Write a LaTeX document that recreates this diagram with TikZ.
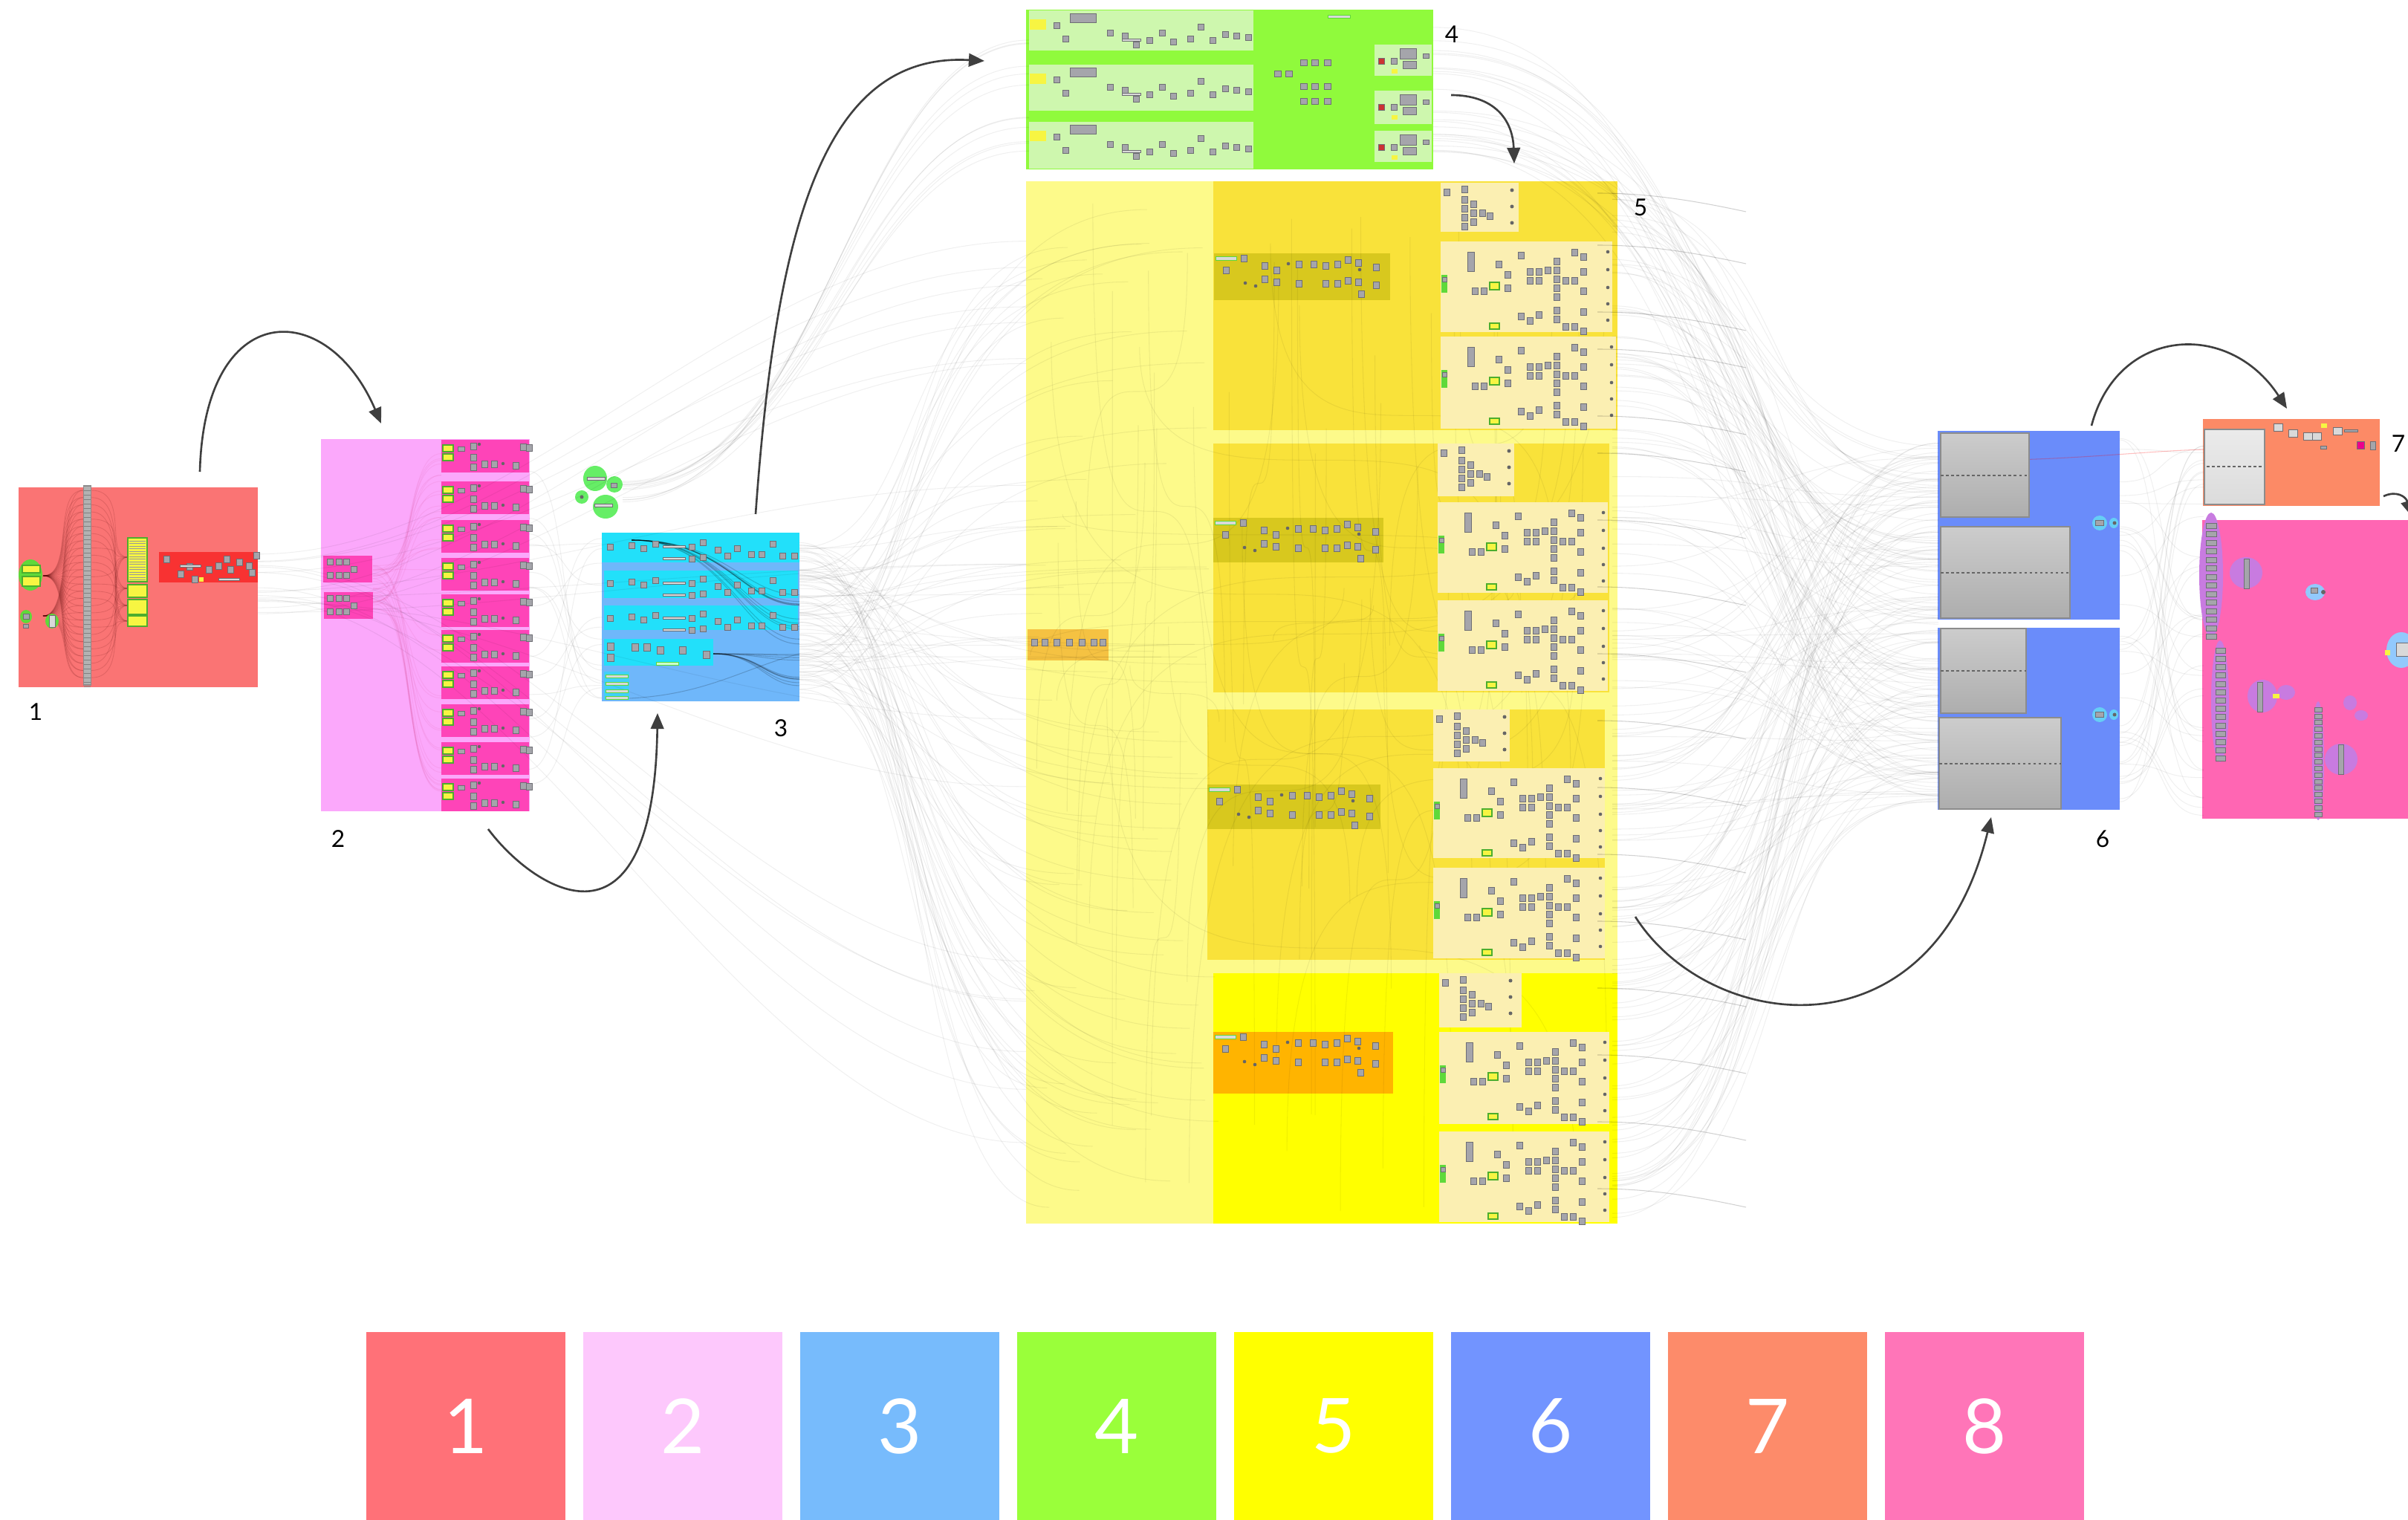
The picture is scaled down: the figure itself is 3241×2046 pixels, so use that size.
\documentclass[tikz,border=0pt]{standalone}
\usepackage{fontspec}
\setmainfont{Lato}
\usetikzlibrary{arrows.meta}
\definecolor{lg1}{HTML}{FF7178}
\definecolor{lg2}{HTML}{FDC8FC}
\definecolor{lg3}{HTML}{77BBFC}
\definecolor{lg4}{HTML}{9AFF3A}
\definecolor{lg5}{HTML}{FFFF00}
\definecolor{lg6}{HTML}{7294FF}
\definecolor{lg7}{HTML}{FD8B6A}
\definecolor{lg8}{HTML}{FF75B8}
\definecolor{gA}{HTML}{FA7474}
\definecolor{gAred}{HTML}{F83232}
\definecolor{gBl}{HTML}{FBA8FB}
\definecolor{gBd}{HTML}{FE44B8}
\definecolor{gCo}{HTML}{6FB7FA}
\definecolor{gCi}{HTML}{22E0FA}
\definecolor{gDo}{HTML}{90FA3C}
\definecolor{gDi}{HTML}{CEF7AE}
\definecolor{gEo}{HTML}{FDFA8A}
\definecolor{gEg}{HTML}{F9E23A}
\definecolor{gEol}{HTML}{D8C81E}
\definecolor{gEc}{HTML}{FBEFB2}
\definecolor{gEor}{HTML}{FFB400}
\definecolor{gEsm}{HTML}{F5C242}
\definecolor{gF}{HTML}{6A8CFA}
\definecolor{gG}{HTML}{FC8A66}
\definecolor{gH}{HTML}{FF66B3}
\definecolor{purp}{HTML}{C87BE0}
\definecolor{ghgreen}{HTML}{5FD93A}
\definecolor{blob}{HTML}{66EE66}
\definecolor{cmpgray}{HTML}{A5A5AB}
\definecolor{cmpedge}{HTML}{6E6E74}
\definecolor{ylw}{HTML}{F7F542}
\definecolor{arr}{HTML}{3F3F3F}
\tikzset{
  cmp/.style={fill=cmpgray,draw=cmpedge,line width=0.15pt},
  ybox/.style={fill=ylw,draw=ghgreen!80!black,line width=0.3pt},
  wire/.style={draw=black,opacity=0.06,line width=0.3pt},
  darkwire/.style={draw=black,opacity=0.18,line width=0.3pt},
  fanwire/.style={draw=black!70!red,opacity=0.14,line width=0.25pt},
  flow/.style={draw=arr,line width=0.75pt,-{Triangle[length=6pt,width=5pt]}},
  grplabel/.style={font=\fontsize{9}{10}\selectfont,text=black,inner sep=0pt},
  legbox/.style={minimum width=2.68cm,minimum height=2.53cm,inner sep=0pt,text=white,font=\fontsize{29}{30}\selectfont},
  panel/.style={top color=black!20,bottom color=black!32,draw=black!45,line width=0.4pt}
}
\begin{document}
\begin{tikzpicture}[x=0.01cm,y=-0.01cm]
\useasboundingbox (0,0) rectangle (3241,2046);
\fill[white] (0,0) rectangle (3241,2046);
\pgfmathsetseed{17}

%================ group backgrounds ================
% group 1
\fill[gA] (25,656) rectangle (347,925);
\fill[gAred] (214,743) rectangle (347,784);
% group 2
\fill[gBl] (432,591) rectangle (713,1092);
\foreach \r in {592,648,700,751,800,848,897,948,999,1048}
  \fill[gBd] (594,\r) rectangle (712,\r+44);
\fill[gBd] (435,748) rectangle (501,784);
\fill[gBd] (436,797) rectangle (502,833);
% green blobs
\fill[blob] (801,644) ellipse (16 and 17);
\fill[blob] (827,652) ellipse (11 and 11);
\fill[blob] (783,669) ellipse (9 and 9);
\fill[blob] (815,682) ellipse (17 and 16);
% group 3
\fill[gCo] (810,717) rectangle (1076,944);
\fill[gCi] (810,717) rectangle (1076,757);
\fill[gCi] (813,768) rectangle (1074,805);
\fill[gCi] (813,815) rectangle (1074,848);
\fill[gCi] (813,860) rectangle (960,896);
\fill[gCi!60!gCo] (813,904) rectangle (847,942);
% group 4
\fill[gDo] (1381,13) rectangle (1929,228);
\fill[gDi] (1385,14) rectangle (1687,68);
\fill[gDi] (1385,87) rectangle (1687,149);
\fill[gDi] (1385,164) rectangle (1687,227);
\fill[gDi] (1850,60) rectangle (1927,102);
\fill[gDi] (1850,122) rectangle (1927,167);
\fill[gDi] (1850,176) rectangle (1927,218);
% group 5
\fill[gEo] (1381,244) rectangle (2177,1647);
\fill[gEg] (1633,244) rectangle (2177,579);
\fill[gEg] (1633,597) rectangle (2166,932);
\fill[gEg] (1625,955) rectangle (2160,1292);
\fill[lg5] (1633,1310) rectangle (2177,1647);
\fill[gEol] (1634,341) rectangle (1871,404);
\fill[gEol] (1633,697) rectangle (1862,757);
\fill[gEol] (1625,1056) rectangle (1858,1116);
\fill[gEor] (1633,1389) rectangle (1875,1472);
\fill[gEsm] (1383,847) rectangle (1492,889);
% group 6
\fill[gF] (2608,580) rectangle (2853,834);
\fill[gF] (2608,845) rectangle (2853,1090);
% group 7
\fill[gG] (2965,564) rectangle (3203,681);
% group 8
\fill[gH] (2964,700) rectangle (3241,1102);

%================ faint wires ================
\foreach \i in {1,...,18}{
  \pgfmathsetmacro\ya{745+95*rnd}
  \pgfmathsetmacro\yb{300+1300*rnd}
  \draw[wire] (347,\ya) .. controls (700,\ya) and (1000,\yb) .. (1381,\yb);
}
\foreach \i in {1,...,34}{
  \pgfmathsetmacro\ya{760+60*rnd}
  \pgfmathsetmacro\yb{600+480*rnd}
  \draw[wire,draw=purple] (502,\ya) .. controls (560,\ya) and (540,\yb) .. (594,\yb);
}
\foreach \i in {1,...,16}{
  \pgfmathsetmacro\ya{600+480*rnd}
  \pgfmathsetmacro\yb{720+220*rnd}
  \draw[wire] (712,\ya) .. controls (770,\ya) and (750,\yb) .. (810,\yb);
}
\foreach \i in {1,...,12}{
  \pgfmathsetmacro\ya{640+45*rnd}
  \pgfmathsetmacro\yb{25+190*rnd}
  \draw[wire] (838,\ya) .. controls (1100,\ya) and (1150,\yb) .. (1385,\yb);
}
\foreach \i in {1,...,90}{
  \pgfmathsetmacro\ya{725+210*rnd}
  \pgfmathsetmacro\yb{250+1390*rnd}
  \pgfmathsetmacro\xb{1390+250*rnd}
  \draw[wire] (1076,\ya) .. controls (1250,\ya) and (1200,\yb) .. (\xb,\yb);
}
\foreach \i in {1,...,12}{
  \pgfmathsetmacro\yb{760+120*rnd}
  \draw[darkwire] (850,727) .. controls (980,727) and (1000,\yb) .. (1076,\yb);
}
\foreach \i in {1,...,10}{
  \pgfmathsetmacro\yb{880+50*rnd}
  \draw[darkwire] (960,880) .. controls (1020,880) and (1030,\yb) .. (1076,\yb);
}
\draw[darkwire] (847,940) .. controls (950,935) and (1000,900) .. (1076,880);
\foreach \i in {1,...,60}{
  \pgfmathsetmacro\xa{1385+780*rnd}
  \pgfmathsetmacro\xb{1385+780*rnd}
  \pgfmathsetmacro\ya{250+700*rnd}
  \pgfmathsetmacro\yb{700+940*rnd}
  \draw[wire] (\xa,\ya) .. controls (\xa,\yb) and (\xb,\ya) .. (\xb,\yb);
}
\foreach \i in {1,...,24}{
  \pgfmathsetmacro\ya{30+180*rnd}
  \pgfmathsetmacro\yb{590+480*rnd}
  \draw[wire] (1929,\ya) .. controls (2350,\ya) and (2300,\yb) .. (2609,\yb);
}
\foreach \i in {1,...,150}{
  \pgfmathsetmacro\ya{260+1380*rnd}
  \pgfmathsetmacro\yb{590+490*rnd}
  \draw[wire] (2170,\ya) .. controls (2420,\ya) and (2360,\yb) .. (2609,\yb);
}
\foreach \i in {1,...,40}{
  \pgfmathsetmacro\ya{590+490*rnd}
  \pgfmathsetmacro\yb{580+520*rnd}
  \draw[wire] (2853,\ya) .. controls (2920,\ya) and (2900,\yb) .. (2966,\yb);
}
\draw[draw=red,opacity=0.25,line width=0.3pt] (2640,620) .. controls (2800,620) and (2900,605) .. (2980,605);

%================ group 1 details ================
\foreach \k in {0,...,26}{
  \draw[fanwire] (58,775) .. controls (100,775) and (70,660+\k*9.7) .. (112,660+\k*9.7);
  \draw[fanwire] (58,829) .. controls (100,829) and (75,660+\k*9.7) .. (112,660+\k*9.7);
}
\foreach \k in {0,...,26}{
  \pgfmathsetmacro\yc{{750,792,815,836}[mod(\k,4)]}
  \draw[fanwire] (123,660+\k*9.7) .. controls (175,660+\k*9.7) and (140,\yc) .. (172,\yc);
}
\fill[black!45] (112,653) rectangle (123,923);
\fill[black!30] (113,655) rectangle (122,921);
\foreach \k in {0,...,44} \draw[black!50,line width=0.1pt] (113,660+\k*6) -- (122,660+\k*6);
\path[ybox] (172,724) rectangle (198,783);
\path[ybox] (172,787) rectangle (198,804);
\path[ybox] (172,807) rectangle (198,827);
\path[ybox] (172,829) rectangle (198,843);
\foreach \k in {0,...,15} \draw[black!40,line width=0.1pt] (174,728+\k*3.5) -- (196,728+\k*3.5);
\fill[ghgreen] (41,774) ellipse (16 and 21);
\path[ybox] (30,761) rectangle (54,771);
\path[ybox] (30,776) rectangle (54,789);
\fill[ghgreen] (35,830) ellipse (8 and 9);
\path[cmp] (31,826) rectangle ++(8,7);
\path[cmp] (31,840) rectangle ++(7,5);
\fill[ghgreen] (70,836) ellipse (9 and 10);
\path[cmp,fill=white!85!black] (66,828) rectangle ++(8,16);
\foreach \cx/\cy in {220/748,239/768,251/758,258/775,277/762,290/757,301/748,306/762,318/752,331/757,335/766,341/743}
  \path[cmp] (\cx,\cy) rectangle ++(8,9);
\path[cmp,fill=white!85!black] (242,760) rectangle ++(28,3);
\path[cmp,fill=white!85!black] (294,778) rectangle ++(28,3);
\fill[ylw] (268,777) rectangle ++(6,6);

%================ group 2 details ================
\foreach \r in {592,648,700,751,800,848,897,948,999,1048}{
  \path[ybox] (596,\r+7) rectangle ++(14,9);
  \path[ybox] (596,\r+19) rectangle ++(14,9);
  \path[cmp] (616,\r+9) rectangle ++(9,6);
  \foreach \cx/\cy in {633/4,633/19,633/32,648/28,661/28,700/5,690/30,708/6}
    \path[cmp] (\cx,\r+\cy) rectangle ++(8,9);
  \fill[black!60] (645,\r+6) circle (2.2);
  \fill[black!60] (677,\r+32) circle (2.2);
}
\foreach \yy in {748,797}{
  \foreach \cx/\cy in {440/4,452/4,462/4,472/14,440/22,452/22,462/22}
    \path[cmp] (\cx,\yy+\cy) rectangle ++(8,8);
}
\path[cmp,fill=white!85!black] (790,642) rectangle ++(24,4);
\path[cmp,fill=white!85!black] (800,678) rectangle ++(24,4);
\path[cmp] (822,650) rectangle ++(8,6);
\fill[black!60] (783,669) circle (2.5);

%================ group 3 details ================
\foreach \yy in {722,771,818}{
  \foreach \cx/\cy in {817/10,846/8,862/12,878/6,927/10,942/4,962/14,975/22,988/12,1007/20,1021/20,1036/6,1049/22,1065/22,927/26,942/24}{
    \path[cmp] (\cx,\yy+\cy) rectangle ++(8,8);
  }
  \path[cmp,fill=white!85!black] (892,\yy+12) rectangle ++(30,3);
  \path[cmp,fill=white!85!black] (892,\yy+28) rectangle ++(30,3);
}
\foreach \cx/\cy in {817/865,850/866,866/866,884/870,914/870,946/876,817/880}
  \path[cmp] (\cx,\cy) rectangle ++(9,10);
\path[cmp,fill=white!80!green,draw=ghgreen] (883,891) rectangle ++(30,4);
\foreach \yy in {908,918,928,937}
  \path[cmp,fill=white!85!black,draw=ghgreen] (815,\yy) rectangle ++(30,4);

%================ group 4 details ================
\foreach \yy in {14,87,164}{
  \fill[ylw] (1386,\yy+12) rectangle ++(22,14);
  \path[cmp] (1440,\yy+4) rectangle ++(35,12);
  \foreach \cx/\cy in {1418/16,1430/34,1490/26,1510/30,1525/42,1543/36,1560/26,1575/38,1598/34,1612/18,1628/36,1645/28,1660/30,1676/32}{
    \path[cmp] (\cx,\yy+\cy) rectangle ++(8,8);
  }
  \path[cmp,fill=white!85!black] (1510,\yy+38) rectangle ++(25,3);
}
\foreach \cx/\cy in {1715/95,1730/95,1750/80,1765/80,1782/80,1750/112,1765/112,1782/112,1750/132,1765/132,1782/132}
  \path[cmp] (\cx,\cy) rectangle ++(9,8);
\path[cmp,fill=white!85!black,draw=ghgreen] (1787,20) rectangle ++(30,4);
\foreach \yy in {60,122,176}{
  \path[cmp] (1884,\yy+5) rectangle ++(22,14);
  \path[cmp] (1888,\yy+22) rectangle ++(18,10);
  \path[cmp,fill=red!60!gray] (1855,\yy+18) rectangle ++(8,8);
  \path[cmp] (1872,\yy+18) rectangle ++(8,8);
  \path[cmp] (1915,\yy+12) rectangle ++(8,6);
  \fill[ylw] (1873,\yy+33) rectangle ++(8,6);
}

%================ group 5 details ================
% small top boxes
\foreach \xa/\ya/\xb/\yb in {1939/246/2044/312,1935/597/2038/668,1929/955/2032/1025,1937/1310/2048/1383}{
  \fill[gEc] (\xa,\ya) rectangle (\xb,\yb);
  \foreach \dx/\dy in {4/8,28/4,28/18,28/30,28/42,28/54,40/24,40/36,52/36,62/40,40/48}
    \path[cmp] (\xa+\dx,\ya+\dy) rectangle ++(8,9);
  \foreach \dy in {10,32,54} \fill[black!60] (\xa+96,\ya+\dy) circle (2.5);
}
% middle and bottom boxes
\foreach \xa/\ya/\xb/\yb in {1939/325/2170/447,1939/453/2175/577,1935/676/2164/798,1935/808/2164/930,1929/1034/2160/1155,1929/1168/2160/1290,1937/1389/2166/1513,1937/1523/2166/1645}{
  \fill[gEc] (\xa,\ya) rectangle (\xb,\yb);
  \fill[ghgreen] (\xa+1,\ya+45) rectangle ++(8,24);
  \path[cmp] (\xa+2,\ya+48) rectangle ++(6,6);
  \path[ybox] (\xa+66,\ya+55) rectangle ++(13,10);
  \path[ybox] (\xa+66,\ya+110) rectangle ++(13,8);
  \path[cmp] (\xa+36,\ya+14) rectangle ++(9,26);
  \foreach \dx/\dy in {14/56,26/56,46/20,58/34,58/52,76/8,76/90,88/30,88/42,88/96,
                       100/30,100/42,100/88,112/28,124/16,124/28,124/40,124/52,124/64,
                       136/42,148/42,124/82,124/94,136/104,148/104,160/10,160/30,160/56,
                       160/84,160/110,148/4}
    \path[cmp] (\xa+\dx+28,\ya+\dy+6) rectangle ++(8,9);
  \foreach \dy in {14,38,62,84,106} \fill[black!60] (\xb-6,\ya+\dy) circle (2.3);
}
% olive boxes
\foreach \xa/\ya/\xb/\yb in {1634/341/1871/404,1633/697/1862/757,1625/1056/1858/1116,1633/1389/1875/1472}{
  \path[cmp,fill=white!85!black,draw=ghgreen] (\xa+2,\ya+4) rectangle ++(28,5);
  \foreach \dx/\dy in {36/2,12/18,64/12,64/30,80/18,80/34,110/10,110/36,130/10,146/12,146/36,162/10,162/36,176/4,176/32,190/8,190/34,194/50,214/14,214/38}
    \path[cmp] (\xa+\dx,\ya+\dy) rectangle ++(8,9);
  \foreach \dx/\dy in {42/40,56/44,100/14,196/22} \fill[black!60] (\xa+\dx,\ya+\dy) circle (2.3);
}
\foreach \cx in {1388,1402,1418,1435,1452,1468,1480}
  \path[cmp] (\cx,860) rectangle ++(8,9);
% lines leaving group 5 to the right
\foreach \yy in {260,330,420,470,560,610,700,790,880,970,1060,1150,1240,1330,1420,1510,1600}
  \draw[black,opacity=0.18,line width=0.3pt] (2150,\yy) .. controls (2220,\yy) and (2280,\yy+10) .. (2350,\yy+25);

%================ group 6 details ================
\shade[panel] (2612,583) rectangle (2731,696);
\shade[panel] (2612,709) rectangle (2786,832);
\shade[panel] (2612,846) rectangle (2727,960);
\shade[panel] (2610,966) rectangle (2774,1089);
\foreach \xa/\xb/\yy in {2612/2731/640,2612/2786/771,2612/2727/903,2610/2774/1028}
  \draw[black!60,line width=0.3pt,dash pattern=on 1pt off 1pt] (\xa,\yy) -- (\xb,\yy);
\foreach \yy in {694,952}{
  \fill[cyan!60!white] (2826,\yy+10) ellipse (10 and 10);
  \fill[cyan!60!white] (2845,\yy+10) ellipse (6 and 7);
  \path[cmp] (2820,\yy+6) rectangle ++(11,7);
  \fill[black!60] (2846,\yy+10) circle (2.5);
}

%================ group 7 details ================
\shade[panel,top color=black!8,bottom color=black!14] (2967,578) rectangle (3048,679);
\draw[black!60,dash pattern=on 1pt off 1pt,line width=0.3pt] (2970,628) -- (3046,628);
\foreach \cx/\cy in {3060/570,3080/578,3100/582,3112/582,3140/575}
  \path[cmp,fill=white!85!black] (\cx,\cy) rectangle ++(12,10);
\fill[ylw] (3124,570) rectangle ++(8,6);
\path[cmp] (3155,578) rectangle ++(18,3);
\path[cmp,fill=magenta] (3172,594) rectangle ++(10,10);
\path[cmp] (3190,594) rectangle ++(7,11);
\path[cmp] (3123,600) rectangle ++(8,4);

%================ group 8 details ================
\fill[purp] (2976,774) ellipse (16 and 84);
\fill[purp] (2988,944) ellipse (12 and 82);
\fill[purp] (3120,1024) ellipse (8 and 80);
\fill[purp] (3023,771) ellipse (22 and 21);
\fill[purp] (3045,937) ellipse (20 and 22);
\fill[purp] (3077,932) ellipse (12 and 10);
\fill[purp] (3151,1022) ellipse (22 and 21);
\fill[purp] (3163,946) ellipse (9 and 10);
\fill[purp] (3178,963) ellipse (9 and 7);
\fill[lg3!80!white] (3116,797) ellipse (13 and 11);
\fill[lg3!80!white] (3232,875) ellipse (20 and 24);
\foreach \k in {0,...,13} \path[cmp] (2969,704+\k*11.5) rectangle ++(14,7);
\foreach \k in {0,...,13} \path[cmp] (2982,872+\k*11.2) rectangle ++(13,7);
\foreach \k in {0,...,16} \path[cmp] (3115,952+\k*8.8) rectangle ++(10,6);
\path[cmp] (3020,752) rectangle ++(7,40);
\path[cmp] (3038,918) rectangle ++(7,40);
\path[cmp] (3147,1002) rectangle ++(7,40);
\path[cmp] (3110,791) rectangle ++(9,7);
\fill[black!60] (3127,797) circle (3);
\fill[ylw] (3059,934) rectangle ++(9,6);
\fill[ylw] (3210,875) rectangle ++(7,7);
\path[cmp,fill=white!85!black] (3225,865) rectangle ++(16,18);

%================ group labels ================
\node[grplabel] (n1) at (48,958) {1};
\node[grplabel] (n2) at (455,1129) {2};
\node[grplabel] (n3) at (1051,980) {3};
\node[grplabel] (n4) at (1954,46) {4};
\node[grplabel] (n5) at (2208,279) {5};
\node[grplabel] (n6) at (2830,1129) {6};
\node[grplabel] (n7) at (3228,597) {7};

%================ flow arrows ================
\coordinate (s1) at (269,635);   \coordinate (e1) at (513,570);
\coordinate (s2) at (657,1116);  \coordinate (e2) at (885,960);
\coordinate (s3) at (1017,692);  \coordinate (e3) at (1325,82);
\coordinate (s4) at (1953,128);  \coordinate (e4) at (2038,220);
\coordinate (s5) at (2201,1234); \coordinate (e5) at (2680,1100);
\coordinate (s6) at (2815,573);  \coordinate (e6) at (3078,550);
\coordinate (s7) at (3208,668);  \coordinate (e7) at (3246,695);
\draw[flow] (s1) .. controls (275,400) and (440,400) .. (e1);
\draw[flow] (s2) .. controls (720,1200) and (880,1300) .. (e2);
\draw[flow] (s3) .. controls (1045,300) and (1110,70) .. (e3);
\draw[flow] (s4) .. controls (2010,128) and (2036,160) .. (e4);
\draw[flow] (s5) .. controls (2300,1390) and (2600,1430) .. (e5);
\draw[flow] (s6) .. controls (2850,440) and (3000,430) .. (e6);
\draw[flow] (s7) .. controls (3225,660) and (3238,668) .. (e7);

%================ legend ================
\foreach \i in {1,...,8}{
  \node[legbox,fill=lg\i] (leg\i) at ({627+292*(\i-1)},1919.5) {\i};
}
\end{tikzpicture}
\end{document}
